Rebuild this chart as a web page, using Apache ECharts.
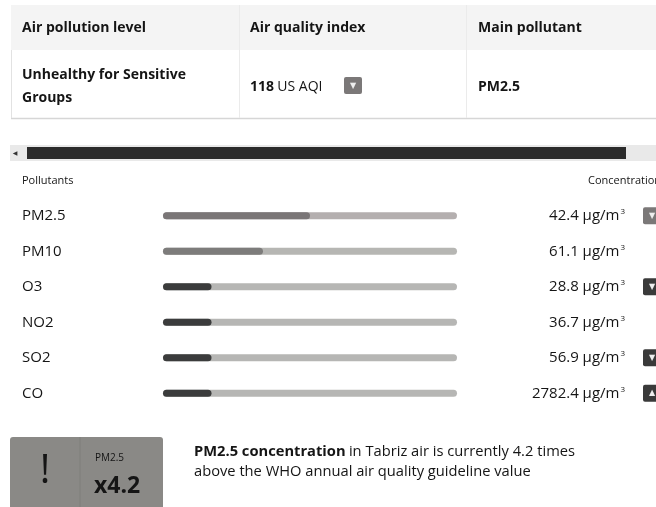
<!DOCTYPE html>
<html>
<head>
<meta charset="utf-8">
<script src="https://cdn.jsdelivr.net/npm/echarts@6/dist/echarts.min.js"></script>
<style>
  html, body { margin: 0; padding: 0; background: #fff; }
  #main { width: 656px; height: 507px; }
</style>
</head>
<body>
<div id="main"></div>
<script>
  // summary table
  const levelText = ['Unhealthy for Sensitive', 'Groups'];
  const aqiValue = 118;
  const mainPollutant = 'PM2.5';
  const whoRatio = 4.2;
  const cityName = 'Tabriz';

  // pollutant rows
  const pollutants = ['PM2.5', 'PM10', 'O3', 'NO2', 'SO2', 'CO'];
  const concentrations = ['42.4', '61.1', '28.8', '36.7', '56.9', '2782.4'];
  const barLevels = [50, 34, 16.5, 16.5, 16.5, 16.5];   // filled part of the bar, %
  const trends = ['down', null, 'down', null, 'down', 'up'];

  const fillColors = ['#7a7677', '#7d7c7b', '#3b3c3c', '#3b3c3c', '#3b3c3c', '#3b3c3c'];
  const trackColors = ['#b4afaf', '#b6b6b3', '#b6b6b4', '#b6b6b4', '#b6b6b4', '#b6b6b4'];

  const FONT = '"Open Sans", "Noto Sans", sans-serif';
  const INK = '#151515';
  const chart = echarts.init(document.getElementById('main'));

  const iconStyle = (bg) => ({
    width: 18, height: 17, align: 'center', backgroundColor: bg, color: '#eee',
    fontSize: 8, borderRadius: 2, fontFamily: 'DejaVu Sans'
  });

  const option = {
    animation: false,
    backgroundColor: '#fff',
    grid: { left: 163, right: 199, top: 198, bottom: 96, containLabel: false, outerBoundsMode: 'none' },
    xAxis: { type: 'value', min: 0, max: 100, show: false },
    yAxis: [
      {
        type: 'category',
        data: pollutants,
        inverse: true,
        position: 'left',
        axisLine: { show: false },
        axisTick: { show: false },
        axisLabel: {
          interval: 0, align: 'left', margin: 141,
          fontSize: 15, color: INK, fontFamily: FONT
        }
      },
      {
        type: 'category',
        data: pollutants,
        inverse: true,
        position: 'right',
        axisLine: { show: false },
        axisTick: { show: false },
        axisLabel: {
          interval: 0, align: 'right', margin: 204,
          formatter: function (value, index) {
            const t = trends[index];
            const ic = t === 'down' ? (index === 0 ? 'dg' : 'dd') : (t === 'up' ? 'ud' : 'no');
            const sym = t === 'down' ? '▼' : (t === 'up' ? '▲' : ' ');
            return '{v|' + concentrations[index] + ' µg/m}{sup|3}{gap| }{' + ic + '|' + sym + '}';
          },
          rich: {
            v: { fontSize: 15, color: INK, fontFamily: FONT },
            sup: { fontSize: 8, color: INK, fontFamily: FONT, padding: [0, 0, 8, 1] },
            gap: { width: 18 },
            dg: iconStyle('#7b7878'),
            dd: iconStyle('#3a3a3a'),
            ud: iconStyle('#3a3a3a'),
            no: { width: 18, height: 17 }
          }
        }
      }
    ],
    series: [
      {
        name: 'track',
        type: 'bar',
        silent: true,
        barWidth: 7,
        data: pollutants.map((p, i) => ({ value: 100, itemStyle: { color: trackColors[i] } })),
        itemStyle: { borderRadius: 4 },
        z: 1
      },
      {
        name: 'level',
        type: 'bar',
        silent: true,
        barWidth: 7,
        barGap: '-100%',
        data: barLevels.map((v, i) => ({ value: v, itemStyle: { color: fillColors[i] } })),
        itemStyle: { borderRadius: 4 },
        z: 2
      }
    ],
    graphic: [
      // table
      { type: 'rect', shape: { x: 11, y: 5, width: 660, height: 45 }, style: { fill: '#f4f4f4' } },
      { type: 'rect', shape: { x: 11, y: 50, width: 660, height: 68 }, style: { fill: '#fff' } },
      { type: 'line', shape: { x1: 11, y1: 118.5, x2: 660, y2: 118.5 }, style: { stroke: '#d6d6d6', lineWidth: 1.5 } },
      { type: 'line', shape: { x1: 11.5, y1: 50, x2: 11.5, y2: 118 }, style: { stroke: '#e2e2e2', lineWidth: 1 } },
      { type: 'line', shape: { x1: 239.5, y1: 5, x2: 239.5, y2: 118 }, style: { stroke: '#ebebeb', lineWidth: 1 } },
      { type: 'line', shape: { x1: 466.5, y1: 5, x2: 466.5, y2: 118 }, style: { stroke: '#ebebeb', lineWidth: 1 } },
      { type: 'text', x: 22, y: 28, style: { text: 'Air pollution level', font: 'bold 14px ' + FONT, fill: INK, verticalAlign: 'middle' } },
      { type: 'text', x: 250, y: 28, style: { text: 'Air quality index', font: 'bold 14px ' + FONT, fill: INK, verticalAlign: 'middle' } },
      { type: 'text', x: 478, y: 28, style: { text: 'Main pollutant', font: 'bold 14px ' + FONT, fill: INK, verticalAlign: 'middle' } },
      { type: 'text', x: 22, y: 75, style: { text: levelText[0], font: 'bold 14px ' + FONT, fill: INK, verticalAlign: 'middle' } },
      { type: 'text', x: 22, y: 98, style: { text: levelText[1], font: 'bold 14px ' + FONT, fill: INK, verticalAlign: 'middle' } },
      {
        type: 'text', x: 250, y: 87,
        style: {
          text: '{b|' + aqiValue + '} {r|US AQI}',
          verticalAlign: 'middle',
          rich: {
            b: { font: 'bold 14px ' + FONT, fill: INK },
            r: { font: '14px ' + FONT, fill: INK }
          }
        }
      },
      { type: 'rect', shape: { x: 344, y: 77, width: 18, height: 17, r: 2 }, style: { fill: '#7b7878' } },
      { type: 'text', x: 353, y: 86, style: { text: '▼', font: '8px "DejaVu Sans"', fill: '#eee', align: 'center', verticalAlign: 'middle' } },
      { type: 'text', x: 478, y: 87, style: { text: mainPollutant, font: 'bold 14px ' + FONT, fill: INK, verticalAlign: 'middle' } },

      // scrollbar
      { type: 'rect', shape: { x: 10, y: 145, width: 650, height: 16 }, style: { fill: '#e9e9e9' } },
      { type: 'text', x: 15, y: 153, style: { text: '◀', font: '6px "DejaVu Sans"', fill: '#333', align: 'center', verticalAlign: 'middle' } },
      { type: 'rect', shape: { x: 27, y: 147, width: 599, height: 12 }, style: { fill: '#2b2b2b' } },

      // pollutant table headers
      { type: 'text', x: 22, y: 181, style: { text: 'Pollutants', font: '11px ' + FONT, fill: INK, verticalAlign: 'middle' } },
      { type: 'text', x: 588, y: 181, style: { text: 'Concentration', font: '11px ' + FONT, fill: INK, verticalAlign: 'middle' } },

      // WHO guideline box
      { type: 'rect', shape: { x: 10, y: 437, width: 153, height: 80, r: 3 }, style: { fill: '#8a8986' } },
      { type: 'line', shape: { x1: 80, y1: 437, x2: 80, y2: 507 }, style: { stroke: '#7f7e7b', lineWidth: 1 } },
      { type: 'text', x: 45, y: 472, style: { text: '!', font: '40px ' + FONT, fill: INK, align: 'center', verticalAlign: 'middle' } },
      { type: 'text', x: 95, y: 458, style: { text: 'PM2.5', font: '10px ' + FONT, fill: INK, verticalAlign: 'middle' } },
      { type: 'text', x: 94, y: 486, style: { text: 'x' + whoRatio, font: 'bold 23px ' + FONT, fill: INK, verticalAlign: 'middle' } },
      {
        type: 'text', x: 194, y: 442,
        style: {
          text: '{b|PM2.5 concentration} {r|in ' + cityName + ' air is currently ' + whoRatio + ' times}\n{r|above the WHO annual air quality guideline value}',
          verticalAlign: 'top',
          rich: {
            b: { font: 'bold 14.7px ' + FONT, fill: INK, lineHeight: 20 },
            r: { font: '14.7px ' + FONT, fill: INK, lineHeight: 20 }
          }
        }
      }
    ]
  };

  chart.setOption(option);
</script>
</body>
</html>
